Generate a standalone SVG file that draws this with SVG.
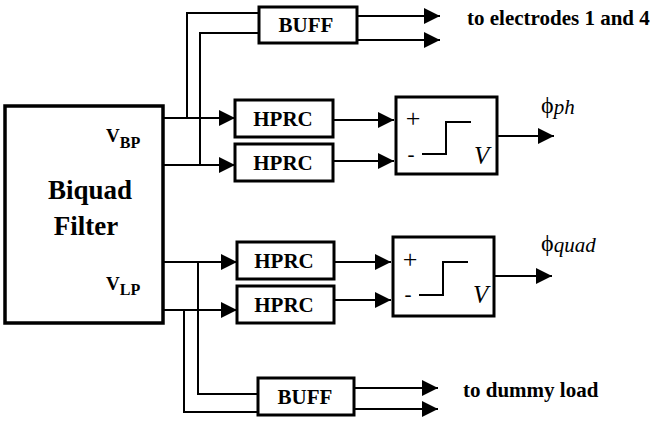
<svg xmlns="http://www.w3.org/2000/svg" width="653" height="422" viewBox="0 0 653 422">
<defs>
<style>
.box{fill:#fff;stroke:#000;stroke-width:3}
.big{fill:#fff;stroke:#000;stroke-width:3.5}
.w{fill:none;stroke:#000;stroke-width:2}
.wa{fill:none;stroke:#000;stroke-width:2;marker-end:url(#ah)}
.step{fill:none;stroke:#000;stroke-width:2}
.lb{font-family:"Liberation Serif","Times New Roman",serif;font-weight:bold;font-size:21px;fill:#000}
.bq{font-family:"Liberation Serif","Times New Roman",serif;font-weight:bold;font-size:27px;fill:#000}
.rm{font-family:"Liberation Serif","Times New Roman",serif;font-size:21px;fill:#000}
.pl{font-family:"Liberation Serif","Times New Roman",serif;font-size:26px;fill:#000}
.it{font-family:"Liberation Serif","Times New Roman",serif;font-style:italic;font-size:25px;fill:#000}
.phi{font-family:"Liberation Serif","DejaVu Serif",serif;font-size:24px;fill:#000}
</style>
<marker id="ah" markerUnits="userSpaceOnUse" markerWidth="16" markerHeight="16" refX="16" refY="8" orient="auto">
<path d="M0,0 L16,8 L0,16 Z" fill="#000"/>
</marker>
</defs>
<rect width="653" height="422" fill="#fff"/>

<g id="connectors">
<path class="wa" d="M163,118 H235"/>
<path class="w" d="M187,118 V13 H259"/>
<path class="wa" d="M163,165 H235"/>
<path class="w" d="M200,165 V33 H259"/>
<path class="wa" d="M357,16 H440"/>
<path class="wa" d="M357,40 H440"/>
<path class="wa" d="M333,120 H394"/>
<path class="wa" d="M333,161 H394"/>
<path class="wa" d="M497,136 H554"/>
<path class="wa" d="M163,262 H237"/>
<path class="wa" d="M163,310 H237"/>
<path class="w" d="M198,262 V394 H258"/>
<path class="w" d="M184,310 V412 H258"/>
<path class="wa" d="M334,262 H391"/>
<path class="wa" d="M334,300 H391"/>
<path class="wa" d="M494,276 H552"/>
<path class="wa" d="M354,388 H438"/>
<path class="wa" d="M354,409 H438"/>
</g>

<g id="biquad">
<rect class="big" x="5" y="106" width="158" height="217"/>
<text class="bq" x="90" y="199" text-anchor="middle">Biquad</text>
<text class="bq" x="86" y="235" text-anchor="middle">Filter</text>
<text class="lb" x="106" y="142" style="font-size:19px">V<tspan dy="6" style="font-size:16px">BP</tspan></text>
<text class="lb" x="106" y="290" style="font-size:19px">V<tspan dy="5" style="font-size:16px">LP</tspan></text>
</g>

<g id="buff-top">
<rect class="box" x="259" y="7" width="98" height="36"/>
<text class="lb" x="306" y="32" text-anchor="middle">BUFF</text>
</g>
<text class="lb" x="467" y="25">to electrodes 1 and 4</text>

<g id="hprc1">
<rect class="box" x="235" y="100" width="98" height="37"/>
<text class="lb" x="283" y="126" text-anchor="middle">HPRC</text>
</g>
<g id="hprc2">
<rect class="box" x="235" y="144" width="98" height="37"/>
<text class="lb" x="283" y="170" text-anchor="middle">HPRC</text>
</g>

<g id="comp1">
<rect class="box" x="396" y="97" width="101" height="77"/>
<text class="pl" x="413" y="127" text-anchor="middle">+</text>
<text class="rm" x="411" y="161" text-anchor="middle">-</text>
<path class="step" d="M422,154 H446 V122 H471"/>
<text class="it" x="474" y="164">V</text>
</g>
<text class="phi" x="541" y="113">ϕ<tspan class="it" style="font-size:21px" dy="1">ph</tspan></text>

<g id="hprc3">
<rect class="box" x="237" y="242" width="97" height="37"/>
<text class="lb" x="284" y="268" text-anchor="middle">HPRC</text>
</g>
<g id="hprc4">
<rect class="box" x="237" y="286" width="97" height="37"/>
<text class="lb" x="284" y="312" text-anchor="middle">HPRC</text>
</g>

<g id="comp2">
<rect class="box" x="393" y="237" width="101" height="79"/>
<text class="pl" x="410" y="268" text-anchor="middle">+</text>
<text class="rm" x="408" y="301" text-anchor="middle">-</text>
<path class="step" d="M419,295 H443 V262 H468"/>
<text class="it" x="473" y="303">V</text>
</g>
<text class="phi" x="541" y="251">ϕ<tspan class="it" style="font-size:21px" dy="1">quad</tspan></text>

<g id="buff-bottom">
<rect class="box" x="258" y="378" width="96" height="37"/>
<text class="lb" x="305" y="404" text-anchor="middle">BUFF</text>
</g>
<text class="lb" x="463" y="397">to dummy load</text>
</svg>
